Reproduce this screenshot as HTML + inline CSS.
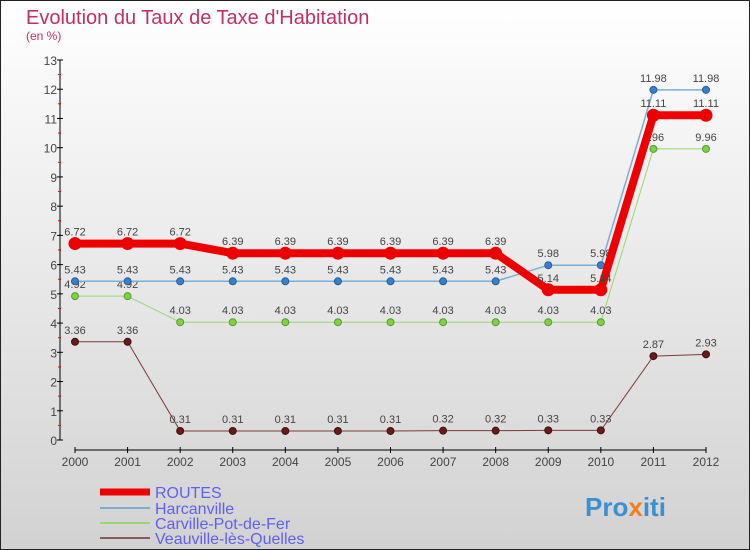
<!DOCTYPE html>
<html><head><meta charset="utf-8"><style>
body{margin:0}
#c{width:750px;height:550px;position:relative;box-sizing:border-box;border:1px solid #222;background:linear-gradient(#fff,#d2d2d2);font-family:"Liberation Sans",sans-serif;overflow:hidden}
</style></head><body>
<div id="c">
<svg id="s" width="750" height="550" style="position:absolute;left:-1px;top:-1px" font-family="Liberation Sans, sans-serif">
<text x="26" y="24" font-size="20" fill="#c03060">Evolution du Taux de Taxe d'Habitation</text>
<text x="26" y="40" font-size="12" fill="#c03060">(en %)</text>
<g id="axes"></g><g id="series"></g>
<g>
<line x1="100" y1="492" x2="150" y2="492" stroke="#e00" stroke-width="7"/>
<text x="155" y="498" font-size="16" fill="#6060f0">ROUTES</text>
<line x1="100" y1="508" x2="150" y2="508" stroke="#7aaed6" stroke-width="2"/>
<text x="155" y="514" font-size="16" fill="#6060f0">Harcanville</text>
<line x1="100" y1="523" x2="150" y2="523" stroke="#98d870" stroke-width="2"/>
<text x="155" y="529" font-size="16" fill="#6060f0">Carville-Pot-de-Fer</text>
<line x1="100" y1="538" x2="150" y2="538" stroke="#8a5a5a" stroke-width="2"/>
<text x="155" y="544" font-size="16" fill="#6060f0">Veauville-lès-Quelles</text>
</g>
<text x="585" y="516" font-size="26" font-weight="bold" fill="#3a90d0">Pro<tspan fill="#f08020">x</tspan>iti</text>
</svg>
</div>
<script>
const years=[2000,2001,2002,2003,2004,2005,2006,2007,2008,2009,2010,2011,2012];
const routes=[6.72,6.72,6.72,6.39,6.39,6.39,6.39,6.39,6.39,5.14,5.14,11.11,11.11];
const harcanville=[5.43,5.43,5.43,5.43,5.43,5.43,5.43,5.43,5.43,5.98,5.98,11.98,11.98];
const carville=[4.92,4.92,4.03,4.03,4.03,4.03,4.03,4.03,4.03,4.03,4.03,9.96,9.96];
const veauville=[3.36,3.36,0.31,0.31,0.31,0.31,0.31,0.32,0.32,0.33,0.33,2.87,2.93];
const yTicks=[0,1,2,3,4,5,6,7,8,9,10,11,12,13];
const NS="http://www.w3.org/2000/svg";
const X=i=>75+i*(706-75)/(years.length-1);
const Y=v=>440-v*(380/13);
function mk(t,a,p){const e=document.createElementNS(NS,t);for(const k in a)e.setAttribute(k,a[k]);p.appendChild(e);return e;}
const ax=document.getElementById('axes'),sg=document.getElementById('series');
let l=mk('line',{x1:60,y1:Y(0),x2:60,y2:Y(13),stroke:'#000'},ax);


yTicks.forEach(v=>{
 mk('line',{x1:57,x2:63,y1:Y(v),y2:Y(v),stroke:'#000'},ax);
 if(v<13)mk('line',{x1:58,x2:61,y1:Y(v+0.5),y2:Y(v+0.5),stroke:'#e00'},ax);
 const t=mk('text',{x:57,y:Y(v)+5,'font-size':12,fill:'#444','text-anchor':'end'},ax);t.textContent=v;
 
 
});
l=mk('line',{x1:X(0),x2:X(12),y1:450,y2:450,stroke:'#000'},ax);


years.forEach((y,i)=>{
 mk('line',{x1:X(i),x2:X(i),y1:447,y2:453,stroke:'#000'},ax);
 const t=mk('text',{x:X(i),y:466,'font-size':12,fill:'#444','text-anchor':'middle'},ax);t.textContent=y;
 
 
});
function series(d,name,col,w,dot,dotCol,r){
 const g=mk('g',{},sg);
 
 
 const p=mk('polyline',{points:d.map((v,i)=>X(i)+','+Y(v)).join(' '),fill:'none',stroke:col,'stroke-width':w,'stroke-linejoin':'round'},g);
 
 
 d.forEach((v,i)=>{
  const c=mk('circle',{cx:X(i),cy:Y(v),r:r,fill:dotCol,stroke:dot,'stroke-width':1},g);
  
  
  const t=mk('text',{x:X(i),y:Y(v)-8,'font-size':11,fill:'#444','text-anchor':'middle'},g);t.textContent=v;
  
  
 });
}
series(veauville,'veauville','#7a3a3a',1,'#401010','#6a1a1a',3.5);
series(carville,'carville','#98d870',1,'#50a030','#80d040',3.5);
series(harcanville,'harcanville','#7aaed6',1.5,'#2060a0','#3a80c8',3.5);
series(routes,'routes','#e00',8,'#e00','#e00',6);
</script>
</body></html>
